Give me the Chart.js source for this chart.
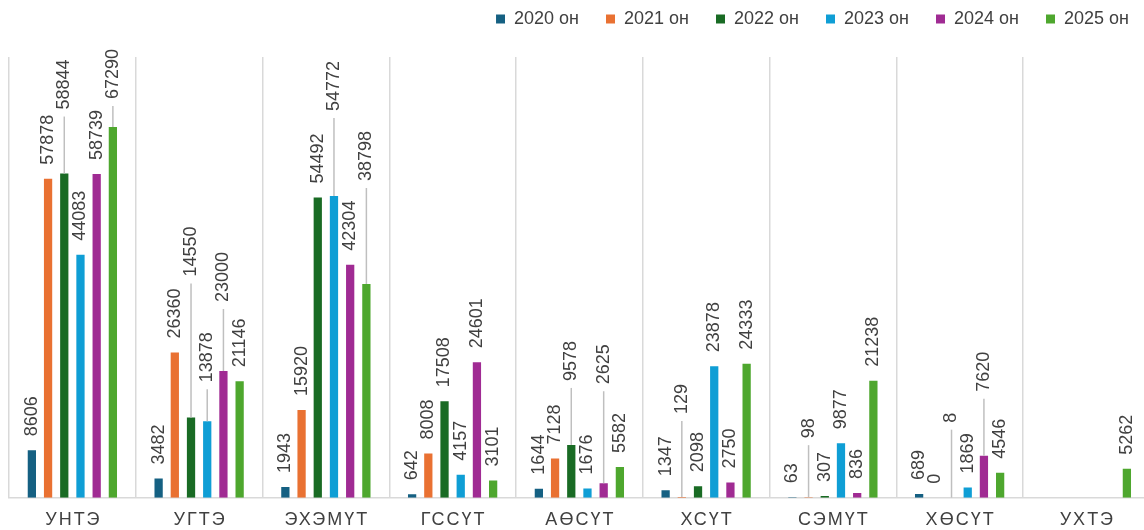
<!DOCTYPE html>
<html>
<head>
<meta charset="utf-8">
<script src="https://cdn.jsdelivr.net/npm/chart.js@4.4.1/dist/chart.umd.min.js"></script>
<style>
  html, body { margin: 0; padding: 0; background: #fff; overflow: hidden; }
  #wrap { width: 1144px; height: 530px; overflow: hidden; }
</style>
</head>
<body>
<div id="wrap"><canvas id="chart" width="1160" height="530"></canvas></div>
<script>
// categories and series
const categories = ['УНТЭ', 'УГТЭ', 'ЭХЭМҮТ', 'ГССҮТ', 'АӨСҮТ', 'ХСҮТ', 'СЭМҮТ', 'ХӨСҮТ', 'УХТЭ'];
const seriesNames = ['2020 он', '2021 он', '2022 он', '2023 он', '2024 он', '2025 он'];
const y2020 = [8606, 3482, 1943, 642, 1644, 1347, 63, 689, null];
const y2021 = [57878, 26360, 15920, 8008, 7128, 129, 98, 0, null];
const y2022 = [58844, 14550, 54492, 17508, 9578, 2098, 307, 8, null];
const y2023 = [44083, 13878, 54772, 4157, 1676, 23878, 9877, 1869, null];
const y2024 = [58739, 23000, 42304, 24601, 2625, 2750, 836, 7620, null];
const y2025 = [67290, 21146, 38798, 3101, 5582, 24333, 21238, 4546, 5262];

const colors = ['#156082', '#E97132', '#196B24', '#0F9ED5', '#A02B93', '#4EA72E'];

// labels that were pulled up with a leader line: "series:category" -> extra px
const labelLift = {
  '1:5': 69, '1:6': 45,
  '2:0': 50, '2:1': 127, '2:4': 50, '2:7': 61,
  '3:1': 25, '3:2': 71,
  '4:1': 55, '4:4': 85, '4:7': 50,
  '5:0': 14, '5:2': 89
};

const TEXT = '#404040';
const FONT = '"Liberation Sans", Arial, sans-serif';

const barLabels = {
  id: 'barLabels',
  beforeLayout(chart) {
    const lg = chart.legend;
    if (lg && !lg._patched) {
      const fit = lg.fit;
      lg.fit = function () { fit.call(this); this.height = 74; };
      lg._patched = true;
    }
  },
  afterDatasetsDraw(chart) {
    const ctx = chart.ctx;
    ctx.save();
    ctx.font = '18px ' + FONT;
    ctx.fillStyle = TEXT;
    ctx.textAlign = 'left';
    ctx.textBaseline = 'middle';
    chart.data.datasets.forEach((ds, i) => {
      const meta = chart.getDatasetMeta(i);
      meta.data.forEach((bar, j) => {
        const v = ds.data[j];
        if (v === null || v === undefined) return;
        const lift = labelLift[i + ':' + j] || 0;
        const start = bar.y - 14 - lift;
        if (lift > 0) {
          ctx.strokeStyle = '#BFBFBF';
          ctx.lineWidth = 1.5;
          ctx.beginPath();
          ctx.moveTo(bar.x, start + 7);
          ctx.lineTo(bar.x, bar.y);
          ctx.stroke();
        }
        ctx.save();
        ctx.translate(bar.x, start);
        ctx.rotate(-Math.PI / 2);
        ctx.fillText(String(v), 0, 0);
        ctx.restore();
      });
    });
    ctx.restore();
  },
  afterDraw(chart) {
    const ctx = chart.ctx;
    const xs = chart.scales.x;
    ctx.save();
    ctx.font = '18px ' + FONT;
    ctx.fillStyle = TEXT;
    ctx.textAlign = 'center';
    ctx.textBaseline = 'middle';
    ctx.letterSpacing = '2px';
    categories.forEach((c, i) => {
      ctx.fillText(c, xs.getPixelForTick(i) + 1, 520);
    });
    ctx.letterSpacing = '0px';
    ctx.restore();
  }
};

const seriesData = [y2020, y2021, y2022, y2023, y2024, y2025];

new Chart(document.getElementById('chart'), {
  type: 'bar',
  data: {
    labels: categories,
    datasets: seriesNames.map((name, i) => ({
      label: name,
      data: seriesData[i],
      backgroundColor: colors[i],
      borderWidth: 0,
      categoryPercentage: 0.767,
      barPercentage: 0.51
    }))
  },
  options: {
    responsive: false,
    animation: false,
    devicePixelRatio: 1,
    layout: { padding: { top: -17, left: 9, right: 4, bottom: 32.3 } },
    plugins: {
      legend: {
        position: 'top',
        align: 'end',
        labels: {
          boxWidth: 9,
          boxHeight: 9,
          padding: 27,
          color: TEXT,
          font: { family: FONT, size: 18 }
        }
      },
      tooltip: { enabled: false }
    },
    scales: {
      x: {
        grid: { color: '#D9D9D9', lineWidth: 1.5, drawTicks: false, offset: true },
        border: { display: true, color: '#D9D9D9', width: 1.5 },
        ticks: { display: false }
      },
      y: {
        position: 'right',
        min: 0,
        max: 80000,
        grid: { display: false, drawTicks: false },
        border: { display: false },
        ticks: { display: false },
        afterFit(s) { s.width = 6.25; }
      }
    }
  },
  plugins: [barLabels]
});
</script>
</body>
</html>
